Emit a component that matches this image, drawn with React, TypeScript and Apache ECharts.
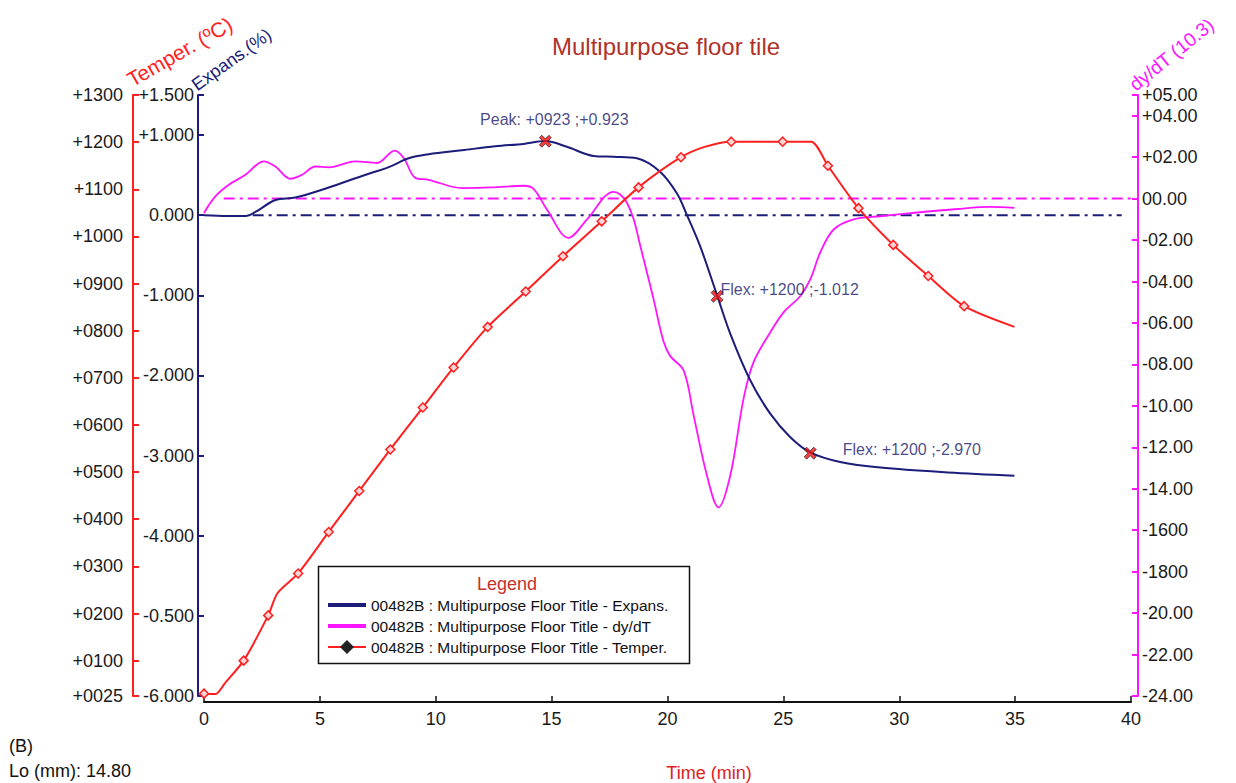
import React, { useEffect, useRef } from 'react';
import * as echarts from 'echarts';

const FONT = '"Liberation Sans", Arial, Helvetica, sans-serif';
const NAVY = '#1c1c7a';
const MAGENTA = '#ff14ff';
const RED = '#ff1f1f';

// ---- axis ticks ----
const tempTicks = [25, 100, 200, 300, 400, 500, 600, 700, 800, 900, 1000, 1100, 1200, 1300];
const tempTickLabels = ['+0025', '+0100', '+0200', '+0300', '+0400', '+0500', '+0600', '+0700', '+0800', '+0900', '+1000', '+1100', '+1200', '+1300'];
const expTicks = [-6, -5, -4, -3, -2, -1, 0, 1, 1.5];
const expTickLabels = ['-6.000', '-0.500', '-4.000', '-3.000', '-2.000', '-1.000', '0.000', '+1.000', '+1.500'];
const dTicks = [-24, -22, -20, -18, -16, -14, -12, -10, -8, -6, -4, -2, 0, 2, 4, 5];
const dTickLabels = ['-24.00', '-22.00', '-20.00', '-1800', '-1600', '-14.00', '-12.00', '-10.00', '-08.00', '-06.00', '-04.00', '-02.00', '00.00', '+02.00', '+04.00', '+05.00'];

// ---- series: expansion (%) ----
const expT = [0, 1.0, 1.8, 2.22, 3.08, 3.94, 5.38, 6.82, 7.97, 8.83, 9.69, 11.13, 12.57, 13.8, 14.73, 15.66, 16.81, 17.68, 18.68, 19.69, 20.41, 20.84, 21.42, 22.14, 22.71, 23.57, 24.44, 25.3, 26.16, 27.45, 29.18, 32.1, 34.97];
const expV = [0, -0.01, -0.01, 0.04, 0.19, 0.22, 0.346, 0.49, 0.6, 0.71, 0.76, 0.81, 0.86, 0.89, 0.925, 0.854, 0.74, 0.73, 0.71, 0.54, 0.27, 0.0, -0.396, -1.0, -1.48, -2.06, -2.48, -2.77, -2.96, -3.08, -3.15, -3.21, -3.25];

// ---- series: dy/dT ----
const dT = [0, 0.49, 1.07, 1.79, 2.58, 3.08, 3.73, 4.23, 4.81, 5.38, 6.53, 7.47, 8.23, 8.62, 9.12, 9.69, 11.13, 12.43, 13.79, 14.22, 14.8, 15.73, 16.53, 17.67, 17.96, 18.25, 18.54, 18.83, 19.4, 19.83, 20.12, 20.7, 21.13, 21.7, 22.2, 22.71, 23.28, 23.71, 24.43, 25.0, 25.73, 26.16, 26.59, 27.17, 28.03, 29.18, 30.5, 32.5, 33.9, 34.97];
const dV = [-0.69, 0.11, 0.67, 1.15, 1.8, 1.55, 0.96, 1.15, 1.55, 1.51, 1.8, 1.72, 2.32, 1.96, 1.0, 0.91, 0.51, 0.54, 0.62, 0.47, -0.53, -1.89, -1.0, 0.33, 0.2, -0.2, -1.0, -2.3, -4.86, -6.9, -7.6, -8.3, -10.47, -13.35, -14.9, -13.35, -9.66, -7.9, -6.46, -5.5, -4.7, -3.9, -2.6, -1.49, -1.0, -0.85, -0.7, -0.5, -0.4, -0.45];

// ---- series: temperature (°C) ----
const tempT = [0, 0.5, 0.9, 1.71, 2.77, 3.17, 4.06, 5.38, 6.7, 8.04, 9.44, 10.77, 12.24, 13.88, 15.49, 17.16, 18.75, 20.58, 21.6, 22.75, 24.97, 26.2, 26.92, 28.24, 29.74, 31.25, 32.8, 34.97];
const tempV = [30, 29, 52, 100, 196, 243, 285, 373, 460, 548, 637, 722, 808, 883, 958, 1032, 1104, 1168, 1190, 1201, 1201, 1201, 1150, 1060, 982, 916, 852, 808];
const tempMarked = [1, 0, 0, 1, 1, 0, 1, 1, 1, 1, 1, 1, 1, 1, 1, 1, 1, 1, 0, 1, 1, 0, 1, 1, 1, 1, 1, 0];

// ---- zero reference lines ----
const zeroDT = [0.85, 40];
const zeroET = [2.1, 39.6];

// ---- annotated points (expansion) ----
const annT = [14.73, 22.14, 26.16];
const annV = [0.923, -1.012, -2.97];
const annText = ['Peak: +0923 ;+0.923', 'Flex: +1200 ;-1.012', 'Flex: +1200 ;-2.970'];

const NAME_E = '00482B : Multipurpose Floor Title - Expans.';
const NAME_D = '00482B : Multipurpose Floor Title - dy/dT';
const NAME_T = '00482B : Multipurpose Floor Title - Temper.';

const XMARK = 'path://M0,4 L4,0 L10,6 L16,0 L20,4 L14,10 L20,16 L16,20 L10,14 L4,20 L0,16 L6,10 Z';

function pick(ticks: number[], labels: string[]) {
  return (v: number) => {
    const i = ticks.findIndex((t) => Math.abs(t - v) < 1e-6);
    return i >= 0 ? labels[i] : '';
  };
}

function buildOption() {
  const tickFont = { fontFamily: FONT, fontSize: 18, color: '#1a1a1a' };
  return {
    animation: false,
    backgroundColor: '#ffffff',
    textStyle: { fontFamily: FONT },
    title: {
      text: 'Multipurpose floor tile',
      left: 661,
      top: 29,
      textAlign: 'center',
      textStyle: { fontFamily: FONT, fontSize: 24, fontWeight: 'normal', color: '#b03228' },
    },
    grid: { left: 204, right: 105, top: 95, bottom: 87 },
    legend: {
      data: [
        { name: NAME_E, itemStyle: { opacity: 0 }, lineStyle: { width: 4 } },
        { name: NAME_D, itemStyle: { opacity: 0 }, lineStyle: { width: 4 } },
        { name: NAME_T, itemStyle: { color: '#222', borderColor: '#222' } },
      ],
      orient: 'vertical',
      left: 326,
      top: 597,
      itemWidth: 38,
      itemHeight: 14,
      itemGap: 5,
      padding: 0,
      textStyle: { fontFamily: FONT, fontSize: 15.5, color: '#111', lineHeight: 16 },
    },
    xAxis: {
      type: 'value',
      min: 0,
      max: 40,
      interval: 5,
      offset: 6,
      axisLine: { show: true, onZero: false, lineStyle: { color: '#111', width: 2 } },
      axisTick: { show: true, inside: true, length: 6, lineStyle: { color: '#111', width: 1.5 } },
      axisLabel: { ...tickFont, margin: 8 },
      splitLine: { show: false },
    },
    yAxis: [
      {
        type: 'value',
        position: 'left',
        offset: 71,
        min: 25,
        max: 1300,
        axisLine: { show: true, onZero: false, lineStyle: { color: RED, width: 2 } },
        axisTick: { show: true, inside: true, length: 6, lineStyle: { color: RED, width: 2 }, customValues: tempTicks },
        axisLabel: { ...tickFont, margin: 10, customValues: tempTicks, formatter: pick(tempTicks, tempTickLabels) },
        splitLine: { show: false },
      },
      {
        type: 'value',
        position: 'left',
        offset: 6,
        min: -6,
        max: 1.5,
        axisLine: { show: true, onZero: false, lineStyle: { color: NAVY, width: 2 } },
        axisTick: { show: true, inside: true, length: 6, lineStyle: { color: NAVY, width: 2 }, customValues: expTicks },
        axisLabel: { ...tickFont, margin: 4, customValues: expTicks, formatter: pick(expTicks, expTickLabels) },
        splitLine: { show: false },
      },
      {
        type: 'value',
        position: 'right',
        offset: 7,
        min: -24,
        max: 5,
        axisLine: { show: true, onZero: false, lineStyle: { color: MAGENTA, width: 2 } },
        axisTick: { show: true, inside: true, length: 6, lineStyle: { color: MAGENTA, width: 2 }, customValues: dTicks },
        axisLabel: { ...tickFont, margin: 4, customValues: dTicks, formatter: pick(dTicks, dTickLabels) },
        splitLine: { show: false },
      },
    ],
    series: [
      {
        name: 'zeroD',
        type: 'line',
        yAxisIndex: 2,
        data: zeroDT.map((t) => [t, 0]),
        symbol: 'none',
        silent: true,
        lineStyle: { color: MAGENTA, width: 2, type: [11, 5, 3, 5] },
        z: 1,
      },
      {
        name: 'zeroE',
        type: 'line',
        yAxisIndex: 1,
        data: zeroET.map((t) => [t, 0]),
        symbol: 'none',
        silent: true,
        lineStyle: { color: NAVY, width: 2, type: [11, 5, 3, 5] },
        z: 1,
      },
      {
        name: NAME_D,
        type: 'line',
        yAxisIndex: 2,
        data: dT.map((t, i) => [t, dV[i]]),
        symbol: 'none',
        smooth: 0.35,
        color: MAGENTA,
        lineStyle: { color: MAGENTA, width: 1.8 },
        z: 2,
      },
      {
        name: NAME_E,
        type: 'line',
        yAxisIndex: 1,
        data: expT.map((t, i) => [t, expV[i]]),
        symbol: 'none',
        smooth: 0.35,
        color: NAVY,
        lineStyle: { color: NAVY, width: 2 },
        z: 3,
      },
      {
        name: NAME_T,
        type: 'line',
        yAxisIndex: 0,
        data: tempT.map((t, i) => (tempMarked[i] ? { value: [t, tempV[i]] } : { value: [t, tempV[i]], symbol: 'none' })),
        showSymbol: true,
        symbol: 'diamond',
        symbolSize: 9,
        smooth: 0.25,
        color: RED,
        itemStyle: { color: '#ffd6d6', borderColor: RED, borderWidth: 1.5 },
        lineStyle: { color: RED, width: 2 },
        z: 4,
      },
      {
        name: 'annotations',
        type: 'scatter',
        yAxisIndex: 1,
        symbol: XMARK,
        symbolSize: 12,
        itemStyle: { color: '#ee1111', borderColor: '#111', borderWidth: 0.8 },
        z: 6,
        data: annT.map((t, i) => ({
          value: [t, annV[i]],
          label: {
            show: true,
            formatter: annText[i],
            position: i === 0 ? 'top' : 'right',
            offset: i === 0 ? [9, -2] : i === 1 ? [-8, -7] : [21, -4],
            color: '#18186a',
            fontFamily: FONT,
            fontSize: 16,
          },
        })),
      },
    ],
    graphic: [
      {
        type: 'text',
        x: 134,
        y: 90,
        rotation: 0.52,
        style: { text: 'Temper. (ºC)', fill: RED, fontFamily: FONT, fontSize: 21, align: 'left', verticalAlign: 'bottom' },
      },
      {
        type: 'text',
        x: 199,
        y: 94,
        rotation: 0.62,
        style: { text: 'Expans.(%)', fill: NAVY, fontFamily: FONT, fontSize: 18, align: 'left', verticalAlign: 'bottom' },
      },
      {
        type: 'text',
        x: 1138,
        y: 94,
        rotation: 0.68,
        style: { text: 'dy/dT (10.3)', fill: MAGENTA, fontFamily: FONT, fontSize: 19, align: 'left', verticalAlign: 'bottom' },
      },
      {
        type: 'text',
        x: 709,
        y: 773,
        style: { text: 'Time (min)', fill: '#e02020', fontFamily: FONT, fontSize: 18, align: 'center', verticalAlign: 'middle' },
      },
      {
        type: 'text',
        x: 9,
        y: 746,
        style: { text: '(B)', fill: '#111', fontFamily: FONT, fontSize: 18, align: 'left', verticalAlign: 'middle' },
      },
      {
        type: 'text',
        x: 9,
        y: 771,
        style: { text: 'Lo (mm): 14.80', fill: '#111', fontFamily: FONT, fontSize: 18, align: 'left', verticalAlign: 'middle' },
      },
      {
        type: 'rect',
        shape: { x: 318.5, y: 566.5, width: 371, height: 97 },
        style: { fill: 'rgba(255,255,255,0)', stroke: '#111', lineWidth: 1.5 },
        z: 10,
      },
      {
        type: 'text',
        x: 507,
        y: 584,
        z: 10,
        style: { text: 'Legend', fill: '#c8302a', fontFamily: FONT, fontSize: 18, align: 'center', verticalAlign: 'middle' },
      },
    ],
  };
}

export default function App() {
  const ref = useRef<HTMLDivElement>(null);
  useEffect(() => {
    if (!ref.current) return;
    const chart = echarts.init(ref.current, null, { renderer: 'svg' });
    chart.setOption(buildOption() as any);
    return () => chart.dispose();
  }, []);
  return (
    <div
      ref={ref}
      style={{ position: 'fixed', left: 0, top: 0, width: 1236, height: 783, background: '#fff' }}
    />
  );
}
